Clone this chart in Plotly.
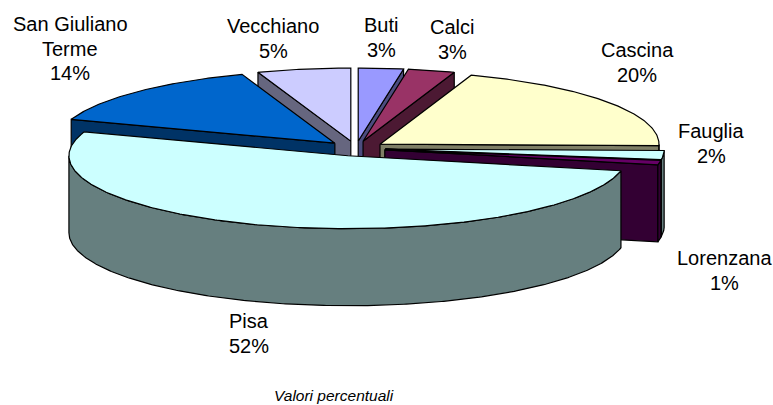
import numpy as np
import plotly.graph_objects as go

# --- data ---
comuni = ["Buti", "Calci", "Cascina", "Fauglia", "Lorenzana", "Pisa", "San Giuliano Terme", "Vecchiano"]
quote = [2.6, 2.7, 20.0, 2.0, 1.0, 52.0, 14.3, 5.4]
etichette = ["3%", "3%", "20%", "2%", "1%", "52%", "14%", "5%"]
colori_top = ["#9999FF", "#993366", "#FFFFCC", "#CCFFFF", "#660066", "#CCFFFF", "#0066CC", "#CCCCFF"]
colori_lato = ["#4C4C7F", "#4C1933", "#7F7F66", "#667F7F", "#330033", "#667F7F", "#003366", "#66667F"]

# --- projection of the tilted, exploded pie ---
CX, CY = 355.8, 148.5
RX, RY = 279.0, 73.0
EX, EY = 29.5, 7.5
DEPTH = 77.0

fig = go.Figure()


def poly(xs, ys, fill):
    fig.add_trace(go.Scatter(
        x=list(xs) + [xs[0]], y=list(ys) + [ys[0]], mode="lines", fill="toself",
        fillcolor=fill, line=dict(color="black", width=1.2),
        hoverinfo="skip", showlegend=False))


def rim(ax, ay, a0, a1):
    t = np.radians(np.linspace(a0, a1, max(int(abs(a1 - a0)) * 2, 2) + 1))
    return ax + RX * np.sin(t), ay - RY * np.cos(t)


edges = np.concatenate([[0], np.cumsum(quote)]) * 3.6
draw_order = [0, 1, 2, 3, 4, 7, 6, 5]

for i in draw_order:
    a0, a1 = edges[i], edges[i + 1]
    mid = np.radians((a0 + a1) / 2)
    ax, ay = CX + EX * np.sin(mid), CY - EY * np.cos(mid)
    # visible cut face
    if i != 5:
        face = a1 if (a0 + a1) / 2 < 180 else a0
        fx, fy = rim(ax, ay, face, face)
        fx, fy = fx[0], fy[0]
        poly([ax, fx, fx, ax], [ay, fy, fy + DEPTH, ay + DEPTH], colori_lato[i])
    # outer wall (front half only)
    w0, w1 = max(a0, 90), min(a1, 270)
    if w1 > w0:
        wx, wy = rim(ax, ay, w0, w1)
        poly(np.r_[wx, wx[::-1]], np.r_[wy, wy[::-1] + DEPTH], colori_lato[i])
    # top surface
    tx, ty = rim(ax, ay, a0, a1)
    poly(np.r_[ax, tx], np.r_[ay, ty], colori_top[i])

# --- labels: centre x, first-line centre y, name lines ---
label_pos = {
    "Buti": (381, 25, ["Buti"]),
    "Calci": (452, 27, ["Calci"]),
    "Cascina": (637, 50, ["Cascina"]),
    "Fauglia": (711, 131, ["Fauglia"]),
    "Lorenzana": (724, 258, ["Lorenzana"]),
    "Pisa": (249, 321, ["Pisa"]),
    "San Giuliano Terme": (70, 24, ["San Giuliano", "Terme"]),
    "Vecchiano": (273, 26, ["Vecchiano"]),
}
for nome, pct in zip(comuni, etichette):
    x, y, righe = label_pos[nome]
    for k, riga in enumerate(righe + [pct]):
        fig.add_annotation(x=x, y=y + 24.5 * k, xref="x", yref="y", text=riga, showarrow=False,
                           xanchor="center", yanchor="middle", align="center",
                           font=dict(family="Liberation Sans", size=20, color="black"))

fig.add_annotation(x=334, y=395, xref="x", yref="y", text="<i>Valori percentuali</i>", showarrow=False,
                   xanchor="center", yanchor="middle",
                   font=dict(family="Liberation Sans", size=15.5, color="black"))

fig.update_layout(
    width=773, height=405, margin=dict(l=0, r=0, t=0, b=0),
    paper_bgcolor="white", plot_bgcolor="white",
    xaxis=dict(range=[0, 773], visible=False, fixedrange=True),
    yaxis=dict(range=[405, 0], visible=False, fixedrange=True),
)
fig.write_html("out.html", config={"displayModeBar": False},
               post_script="document.body.style.margin='0';document.body.style.overflow='hidden';")
